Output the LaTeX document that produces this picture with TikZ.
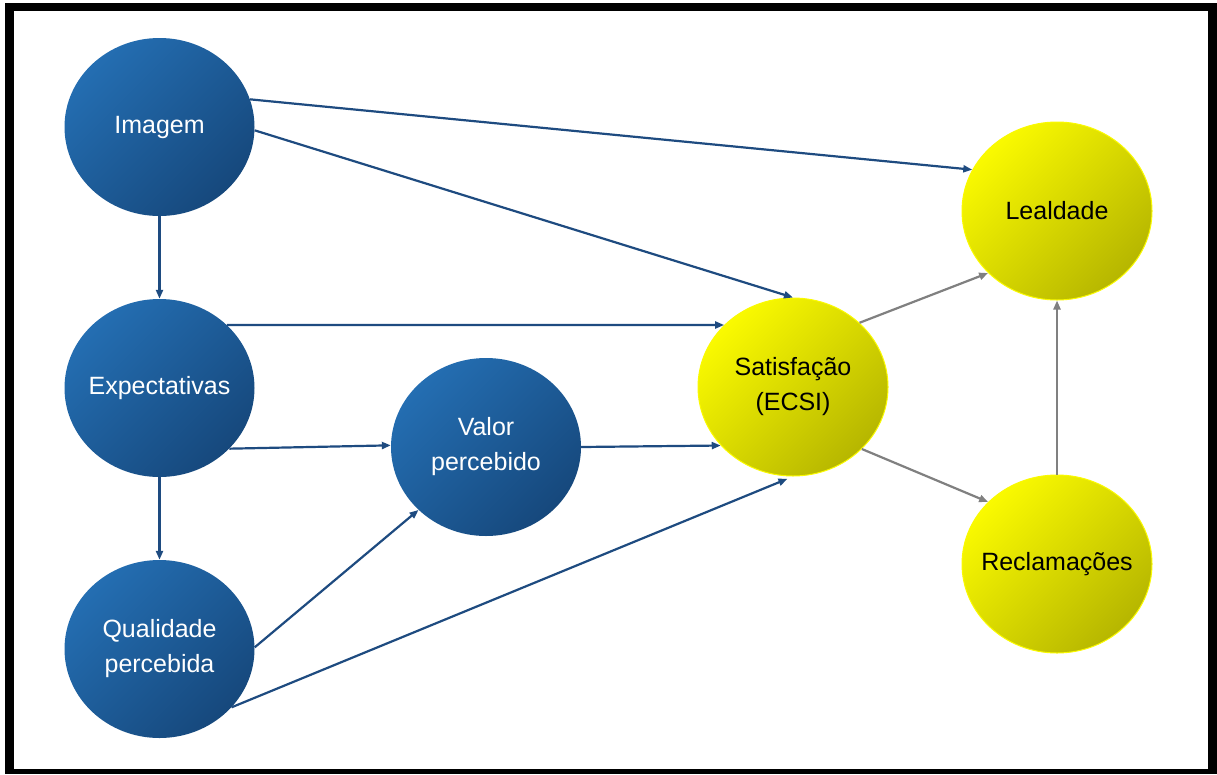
\documentclass[tikz,border=0pt]{standalone}
\usepackage{fontspec}
\setmainfont{Liberation Sans}
\usetikzlibrary{shapes.geometric,arrows.meta}
\definecolor{bluetop}{RGB}{36,110,178}
\definecolor{bluebot}{RGB}{22,72,124}
\definecolor{yeltop}{RGB}{250,250,0}
\definecolor{yelmid}{RGB}{242,242,0}
\definecolor{yelbot}{RGB}{182,182,0}
\definecolor{arrowblue}{RGB}{30,75,128}
\definecolor{arrowgray}{RGB}{128,128,128}
\begin{document}
\begin{tikzpicture}[x=1pt,y=-1pt,
  bubble/.style={ellipse, minimum width=190pt, minimum height=178pt, inner xsep=-20pt, inner ysep=0pt, align=center, font=\fontsize{25}{35}\selectfont},
  bluebubble/.style={bubble, text=white, shading=axis, top color=bluetop, bottom color=bluebot, shading angle=45},
  yellowbubble/.style={bubble, text=black, draw=yeltop, line width=1pt, shading=axis, top color=yeltop, middle color=yelmid, bottom color=yelbot, shading angle=45},
  bluearrow/.style={draw=arrowblue, line width=2.2pt, -{Triangle[length=9pt,width=7pt]}},
  grayarrow/.style={draw=arrowgray, line width=2.2pt, -{Triangle[length=9pt,width=7pt]}}]
\useasboundingbox (0,0) rectangle (1217,774);
\fill[white] (0,0) rectangle (1217,774);
\fill[black] (5,3) rectangle (1217,774);
\fill[white] (14,11) rectangle (1208,769);

\node[bluebubble] (img) at (159.5,127) {Imagem};
\node[bluebubble] (exp) at (159.5,388) {Expectativas};
\node[bluebubble] (qual) at (159.5,649) {Qualidade\\percebida};
\node[bluebubble] (val) at (486,447) {Valor\\percebido};
\node[yellowbubble] (sat) at (793,387) {Satisfação\\(ECSI)};
\node[yellowbubble] (leal) at (1057,211) {Lealdade};
\node[yellowbubble] (recl) at (1057,564) {Reclamações};

\draw[bluearrow] (img.17) -- (leal.154);
\draw[bluearrow] (img.-2) -- (sat.north);
\draw[bluearrow] (img.south) -- (exp.north);
\draw[bluearrow] (exp.43) -- (sat.138);
\draw[bluearrow] (exp.-41) -- (val.179);
\draw[bluearrow] (exp.south) -- (qual.north);
\draw[bluearrow] (qual.1) -- (val.-137);
\draw[bluearrow, shorten >=6pt] (qual.-39) -- (sat.south);
\draw[bluearrow] (val.east) -- (sat.219);
\draw[grayarrow] (sat.44) -- (leal.-138);
\draw[grayarrow] (sat.-42) -- (recl.138);
\draw[grayarrow] (recl.north) -- (leal.south);
\end{tikzpicture}
\end{document}
